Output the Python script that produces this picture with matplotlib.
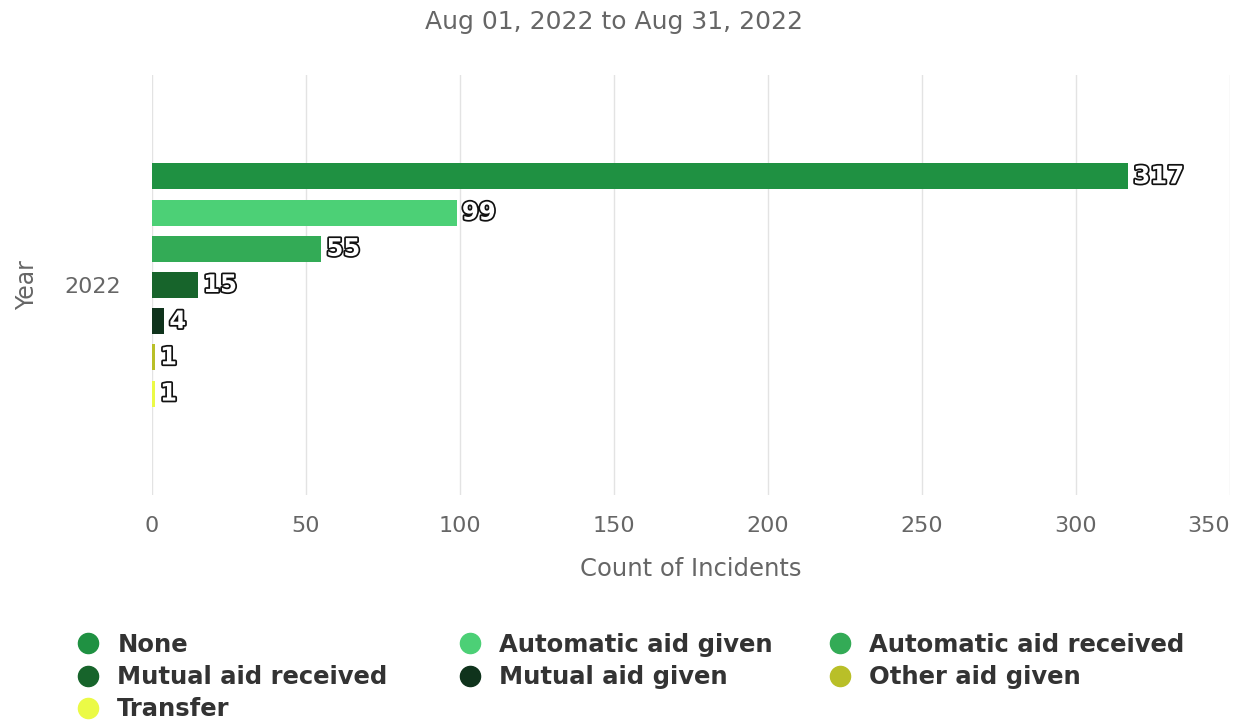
import numpy as np
import matplotlib.pyplot as plt
import matplotlib.patheffects as pe
from matplotlib.lines import Line2D

# data
year = "2022"
series = ["None", "Automatic aid given", "Automatic aid received",
          "Mutual aid received", "Mutual aid given", "Other aid given", "Transfer"]
counts = [317, 99, 55, 15, 4, 1, 1]
colors = ["#1f9142", "#4cd076", "#33ab56", "#17642b", "#0f331c", "#b9bf28", "#ebfa46"]
x_ticks = [0, 50, 100, 150, 200, 250, 300, 350]

W, H = 1238, 724
fig = plt.figure(figsize=(W / 100, H / 100), dpi=100)
ax = fig.add_axes([152 / W, 1 - 495 / H, (1230 - 152) / W, 420 / H])

step = 36.2 / 420
bar_h = 26 / 420
offsets = (np.arange(len(series)) - (len(series) - 1) / 2) * step

for off, val, col, name in zip(offsets, counts, colors, series):
    ax.barh(off, val, height=bar_h, color=col, label=name, zorder=3)
    ax.annotate(str(val), xy=(val, off), xytext=(5, 0), textcoords='offset pixels',
                ha='left', va='center', fontsize=17.5, fontweight='bold', color='white',
                path_effects=[pe.withStroke(linewidth=2.5, foreground='#111111')], zorder=4)

ax.set_ylim(0.5, -0.5)
ax.set_xlim(0, 350)
ax.set_xticks(x_ticks)
ax.set_yticks([0])
ax.set_yticklabels([year])
ax.tick_params(axis='both', length=0, labelsize=16, labelcolor='#666666')
ax.tick_params(axis='y', pad=22)
ax.tick_params(axis='x', pad=15)
ax.get_xticklabels()[-1].set_horizontalalignment('right')
ax.grid(axis='x', color='#e3e3e3', linewidth=1, zorder=0)
for s in ax.spines.values():
    s.set_visible(False)

ax.set_xlabel("Count of Incidents", fontsize=17.5, color='#666666', labelpad=15)
ax.set_ylabel("Year", fontsize=17, color='#666666')
ax.yaxis.set_label_coords(-0.105, 0.5)

fig.text(614 / W, 1 - 22 / H, "Aug 01, 2022 to Aug 31, 2022", ha='center', va='center',
         fontsize=18, color='#666666')

# legend, laid out in three columns like the original
handles = [Line2D([], [], marker='o', linestyle='', markersize=14.5, color=c) for c in colors]
columns = [([0, 3, 6], 76), ([1, 4], 458), ([2, 5], 828)]
for idx, x0 in columns:
    fig.legend([handles[i] for i in idx], [series[i] for i in idx],
               loc='upper left', bbox_to_anchor=(x0 / W, 1 - 633 / H),
               frameon=False, borderpad=0, borderaxespad=0,
               handlelength=1.0, handletextpad=0.7, labelspacing=0.33,
               prop={'size': 17.5, 'weight': 'bold'}, labelcolor='#333333')

fig.savefig("out.png", dpi=100)
